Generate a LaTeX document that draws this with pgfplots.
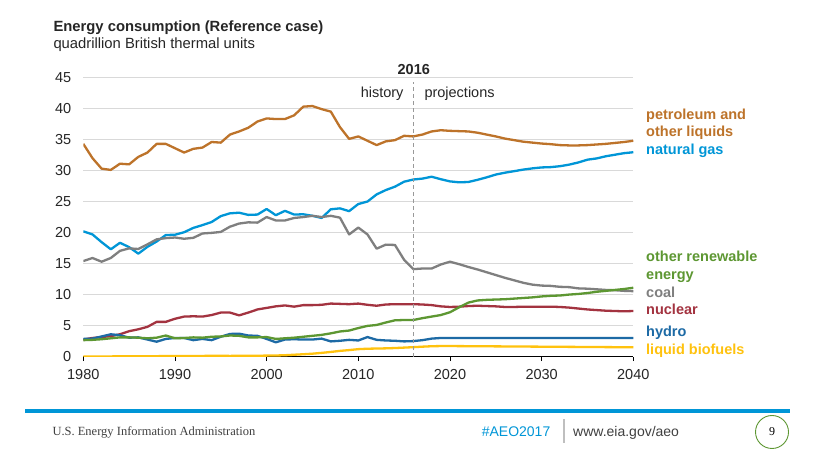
\documentclass[border=0pt]{standalone}
\usepackage{pgfplots}
\pgfplotsset{compat=1.18}
\usepackage{pgfplotstable}
\usepackage{fontspec}
\setmainfont{Liberation Sans}
\newfontfamily\serifface{Liberation Serif}

\definecolor{petro}{HTML}{BD732A}
\definecolor{gas}{HTML}{0096D7}
\definecolor{coal}{HTML}{7F7F7F}
\definecolor{nuke}{HTML}{A33340}
\definecolor{hydro}{HTML}{1D6AA5}
\definecolor{renew}{HTML}{5D9732}
\definecolor{biofuel}{HTML}{FFC20E}
\definecolor{gridgrey}{HTML}{D9D9D9}
\definecolor{txt}{HTML}{262626}

% Energy consumption by fuel, quadrillion Btu (history to 2016, projections after)
% P petroleum and other liquids, G natural gas, C coal, N nuclear,
% H hydro, R other renewable energy, B liquid biofuels
\pgfplotstableread{
year P G C N H R B
1980 34.3 20.2 15.4 2.75 2.85 2.65 0.00
1981 32.0 19.7 15.9 3.00 2.90 2.70 0.01
1982 30.3 18.45 15.3 3.15 3.25 2.80 0.02
1983 30.1 17.3 15.9 3.30 3.60 2.95 0.03
1984 31.1 18.35 17.05 3.60 3.45 3.10 0.04
1985 31.0 17.65 17.45 4.10 3.05 3.10 0.05
1986 32.2 16.6 17.35 4.40 3.10 3.05 0.06
1987 32.9 17.7 18.1 4.80 2.75 2.95 0.07
1988 34.3 18.55 18.9 5.60 2.40 3.05 0.07
1989 34.3 19.6 19.1 5.60 2.85 3.40 0.08
1990 33.6 19.65 19.2 6.10 3.00 2.95 0.08
1991 32.9 20.05 19.0 6.45 3.00 3.00 0.09
1992 33.5 20.75 19.15 6.50 2.65 3.10 0.10
1993 33.7 21.2 19.85 6.45 2.85 3.05 0.11
1994 34.6 21.7 19.95 6.70 2.65 3.20 0.12
1995 34.5 22.65 20.1 7.10 3.20 3.25 0.13
1996 35.8 23.1 20.95 7.10 3.65 3.40 0.11
1997 36.3 23.2 21.45 6.65 3.70 3.35 0.13
1998 36.9 22.85 21.65 7.10 3.40 3.10 0.14
1999 37.9 22.9 21.6 7.60 3.35 3.10 0.14
2000 38.4 23.8 22.5 7.85 2.85 3.15 0.16
2001 38.3 22.8 21.95 8.10 2.30 2.85 0.18
2002 38.3 23.5 21.95 8.25 2.75 2.95 0.22
2003 38.9 22.9 22.35 8.05 2.80 3.05 0.30
2004 40.3 22.95 22.5 8.30 2.75 3.20 0.38
2005 40.4 22.7 22.7 8.30 2.75 3.35 0.47
2006 39.9 22.35 22.5 8.35 2.90 3.50 0.60
2007 39.5 23.75 22.7 8.55 2.45 3.75 0.75
2008 37.0 23.9 22.4 8.50 2.55 4.05 0.92
2009 35.1 23.45 19.7 8.45 2.70 4.20 1.05
2010 35.5 24.6 20.8 8.55 2.60 4.60 1.20
2011 34.8 25.0 19.7 8.35 3.15 4.95 1.27
2012 34.1 26.15 17.4 8.20 2.70 5.10 1.30
2013 34.7 26.85 18.05 8.40 2.60 5.50 1.33
2014 34.9 27.4 18.0 8.45 2.55 5.85 1.38
2015 35.6 28.2 15.6 8.45 2.45 5.90 1.45
2016 35.5 28.55 14.1 8.45 2.50 5.90 1.52
2017 35.8 28.7 14.2 8.40 2.65 6.20 1.60
2018 36.3 29.0 14.2 8.30 2.90 6.45 1.67
2019 36.5 28.6 14.85 8.10 3.00 6.70 1.70
2020 36.4 28.25 15.3 8.00 3.00 7.15 1.70
2021 36.35 28.1 14.9 8.05 3.00 7.95 1.69
2022 36.3 28.15 14.45 8.15 3.00 8.70 1.68
2023 36.1 28.5 14.05 8.20 3.00 9.05 1.67
2024 35.8 28.9 13.6 8.15 3.00 9.15 1.66
2025 35.5 29.35 13.15 8.10 3.00 9.20 1.65
2026 35.15 29.65 12.7 8.00 3.00 9.25 1.64
2027 34.9 29.9 12.3 8.00 3.00 9.35 1.63
2028 34.65 30.15 11.9 8.05 3.00 9.45 1.62
2029 34.5 30.35 11.6 8.05 3.00 9.55 1.61
2030 34.35 30.5 11.45 8.05 3.00 9.70 1.60
2031 34.25 30.55 11.4 8.05 3.00 9.80 1.59
2032 34.1 30.7 11.25 8.00 3.00 9.85 1.58
2033 34.05 30.95 11.2 7.90 3.00 10.00 1.57
2034 34.05 31.3 11.0 7.75 3.00 10.10 1.56
2035 34.1 31.75 10.95 7.60 3.00 10.25 1.55
2036 34.2 31.95 10.85 7.50 3.00 10.45 1.54
2037 34.3 32.3 10.75 7.40 3.00 10.60 1.53
2038 34.45 32.55 10.7 7.35 3.00 10.75 1.52
2039 34.6 32.8 10.6 7.30 3.00 10.90 1.51
2040 34.8 32.95 10.55 7.35 3.00 11.10 1.50
}\energy

\begin{document}
\begin{tikzpicture}[x=1pt,y=1pt]
\fill[white] (0,0) rectangle (833,460);

% titles
\node[anchor=base west, inner sep=0, text=txt,
      font=\fontsize{14.8}{17}\selectfont\bfseries] at (53.3,{460-31.7})
      {Energy consumption (Reference case)};
\node[anchor=base west, inner sep=0, text=txt,
      font=\fontsize{14.8}{17}\selectfont] at (53.3,{460-48.3})
      {quadrillion British thermal units};

\begin{axis}[
  at={(83.3pt,103.4pt)}, anchor=south west,
  scale only axis, width=550pt, height=279.1pt,
  xmin=1980, xmax=2040, ymin=0, ymax=45,
  axis x line*=bottom, axis y line*=left,
  y axis line style={draw=none},
  x axis line style={-, black, line width=0.9pt},
  xtick={1980,1990,...,2040}, ytick={0,5,...,45},
  ymajorgrids, grid style={gridgrey, line width=0.9pt},
  tick align=outside, major tick length=4.5pt,
  xtick style={black, line width=0.8pt},
  ytick style={draw=none},
  tick label style={font=\fontsize{14.5}{17}\selectfont, text=txt},
  /pgf/number format/assume math mode=true,
  x tick label style={/pgf/number format/1000 sep={}, yshift=-5pt},
  y tick label style={xshift=-4pt},
  every axis plot/.append style={line width=2.3pt, line join=round, no markers},
]
\addplot[petro]   table[x=year, y=P] {\energy};
\addplot[gas]     table[x=year, y=G] {\energy};
\addplot[coal]    table[x=year, y=C] {\energy};
\addplot[nuke]    table[x=year, y=N] {\energy};
\addplot[hydro]   table[x=year, y=H] {\energy};
\addplot[renew]   table[x=year, y=R] {\energy};
\addplot[biofuel] table[x=year, y=B] {\energy};
\draw[black!40, line width=0.9pt, dash pattern=on 4pt off 3pt]
  (axis cs:2016,0) -- (axis cs:2016,44.3);
\end{axis}

% history / projections divider labels
\node[anchor=base, inner sep=0, text=txt, font=\fontsize{14.5}{17}\selectfont\bfseries]
  at (413.8,{460-75}) {2016};
\node[anchor=base east, inner sep=0, text=txt, font=\fontsize{14.5}{17}\selectfont]
  at (403.7,{460-97.3}) {history};
\node[anchor=base west, inner sep=0, text=txt, font=\fontsize{14.5}{17}\selectfont]
  at (424.3,{460-97.3}) {projections};

% series labels
\begin{scope}[every node/.style={anchor=base west, inner sep=0,
    font=\fontsize{14.5}{17}\selectfont\bfseries}]
\node[text=petro]   at (646,{460-119.3}) {petroleum and};
\node[text=petro]   at (646,{460-136.7}) {other liquids};
\node[text=gas]     at (646,{460-154.3}) {natural gas};
\node[text=renew]   at (646,{460-261.7}) {other renewable};
\node[text=renew]   at (646,{460-279.3}) {energy};
\node[text=coal]    at (646,{460-297.3}) {coal};
\node[text=nuke]    at (646,{460-314.3}) {nuclear};
\node[text=hydro]   at (646,{460-336.7}) {hydro};
\node[text=biofuel] at (646,{460-354.3}) {liquid biofuels};
\end{scope}

% footer
\fill[gas] (25,{460-412.7}) rectangle (790,{460-409});
\node[anchor=base west, inner sep=0, text=black!75,
      font=\serifface\fontsize{12.5}{14}\selectfont] at (52.3,{460-436})
      {U.S. Energy Information Administration};
\node[anchor=base west, inner sep=0, text=gas,
      font=\fontsize{14}{16}\selectfont] at (481.6,{460-436.7}) {\#AEO2017};
\draw[black!25, line width=1.2pt] (564,{460-419.3}) -- (564,{460-442.7});
\node[anchor=base west, inner sep=0, text=black!75,
      font=\fontsize{14}{16}\selectfont] at (573,{460-436.7}) {www.eia.gov/aeo};
\draw[renew, line width=0.9pt] (772,{460-432}) circle (16.5);
\node[inner sep=0, text=black, font=\serifface\fontsize{12}{14}\selectfont]
  at (772,{460-432}) {9};
\end{tikzpicture}
\end{document}
